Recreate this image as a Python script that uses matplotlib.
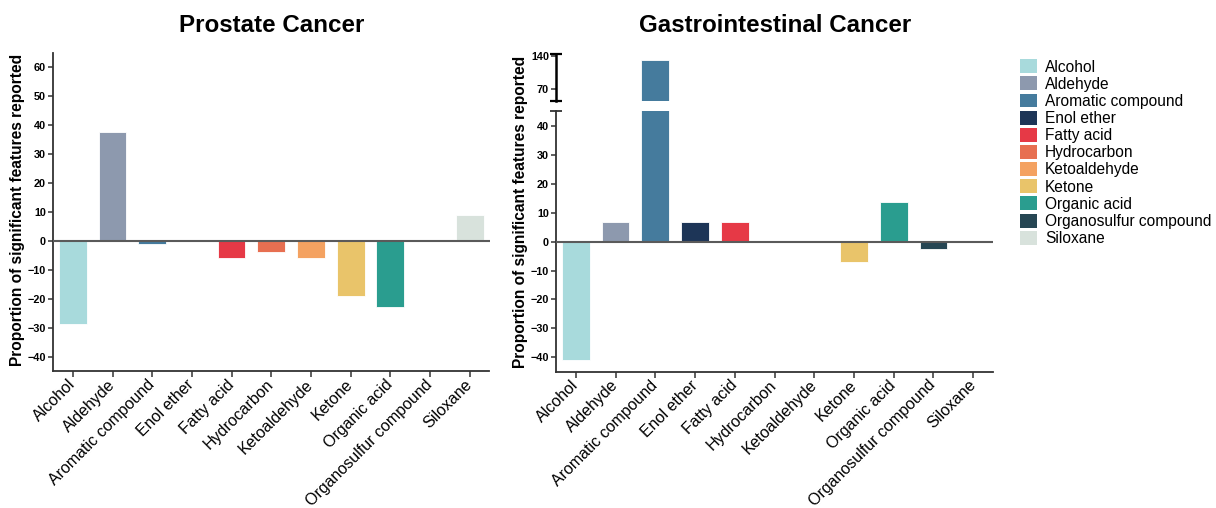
import numpy as np
import matplotlib.pyplot as plt
from matplotlib.patches import Patch

plt.rcParams['font.family'] = ['Liberation Sans', 'DejaVu Sans']

# categorias e valores
categorias = ['Alcohol', 'Aldehyde', 'Aromatic compound', 'Enol ether', 'Fatty acid',
              'Hydrocarbon', 'Ketoaldehyde', 'Ketone', 'Organic acid',
              'Organosulfur compound', 'Siloxane']
cores = ['#a8dadc', '#8d99ae', '#457b9d', '#1d3557', '#e63946', '#e76f51',
         '#f4a261', '#e9c46a', '#2a9d8f', '#264653', '#d8e2dc']
prostata = [-28.7, 37.6, -1.2, 0, -6.0, -4.0, -6.0, -19.1, -22.9, 0, 8.9]
gastro = [-40.9, 6.9, 131, 6.9, 6.9, 0, 0, -7.0, 13.8, -2.5, 0]

W, H = 1216, 508
fig = plt.figure(figsize=(W / 100, H / 100), dpi=100)

def fx(px):
    return px / W

def fy(py):
    return 1 - py / H

cor_eixo = '#333333'
x = np.arange(len(categorias))

def estilo(ax, baixo=True):
    ax.spines['top'].set_visible(False)
    ax.spines['right'].set_visible(False)
    ax.spines['left'].set_color(cor_eixo)
    ax.spines['left'].set_linewidth(1.3)
    ax.spines['bottom'].set_color(cor_eixo)
    ax.spines['bottom'].set_linewidth(1.3)
    ax.tick_params(axis='y', direction='out', length=3.5, width=1.1, color=cor_eixo,
                   labelsize=7.8, pad=1.5)
    for t in ax.get_yticklabels():
        t.set_fontweight('bold')
    ax.set_xlim(-0.5, len(categorias) - 0.5)
    if baixo:
        ax.set_xticks(x)
        ax.set_xticklabels(categorias, rotation=45, ha='right', va='center',
                           rotation_mode='anchor', fontsize=11.5)
        ax.tick_params(axis='x', direction='out', length=4, width=1.1, color=cor_eixo, pad=4)
    else:
        ax.spines['bottom'].set_visible(False)
        ax.set_xticks([])

# painel esquerdo
ax1 = fig.add_axes([fx(53), fy(371), fx(489.5 - 53), fy(53) - fy(371)])
ax1.bar(x, prostata, width=0.7, color=cores, edgecolor='white', linewidth=0.6)
ax1.axhline(0, color='#5a5a5a', lw=1.5, zorder=3)
ax1.set_ylim(-45, 65)
ax1.set_yticks(np.arange(-40, 61, 10))
estilo(ax1)

# painel direito com eixo quebrado
ax2 = fig.add_axes([fx(556), fy(371.7), fx(993 - 556), fy(111) - fy(371.7)])
ax2.bar(x, gastro, width=0.7, color=cores, edgecolor='white', linewidth=0.6)
ax2.axhline(0, color='#5a5a5a', lw=1.5, zorder=3)
ax2.set_ylim(-45, 45.2)
ax2.set_yticks(np.arange(-40, 41, 10))
estilo(ax2)

ax3 = fig.add_axes([fx(556), fy(100.7), fx(993 - 556), fy(54.3) - fy(100.7)])
ax3.bar(x, gastro, width=0.7, color=cores, edgecolor='white', linewidth=0.6)
ax3.set_ylim(44.5, 143)
ax3.set_yticks([70, 140])
estilo(ax3, baixo=False)
ax3.spines['left'].set_color('black')
ax3.spines['left'].set_linewidth(1.8)

# marcas da quebra
ax3.plot([0, 0], [0, 1], transform=ax3.transAxes, ls='none', marker='_',
         ms=8, mew=1.6, color='black', clip_on=False)
ax2.plot([0], [1], transform=ax2.transAxes, ls='none', marker='_',
         ms=8, mew=1.3, color=cor_eixo, clip_on=False)

# titulos e rotulos
fig.text(fx(272), fy(25), 'Prostate Cancer', ha='center', va='center',
         fontsize=17.4, fontweight='bold')
fig.text(fx(775), fy(25), 'Gastrointestinal Cancer', ha='center', va='center',
         fontsize=17.4, fontweight='bold')
rotulo = 'Proportion of significant features reported'
fig.text(fx(18), fy(210), rotulo, rotation=90, ha='center', va='center',
         fontsize=11.2, fontweight='bold')
fig.text(fx(520), fy(212), rotulo, rotation=90, ha='center', va='center',
         fontsize=11.2, fontweight='bold')

# legenda
alcas = [Patch(facecolor=c, edgecolor='none', label=n) for c, n in zip(cores, categorias)]
fig.legend(handles=alcas, loc='upper left', bbox_to_anchor=(fx(1014), fy(53)),
           frameon=False, fontsize=11.2, handlelength=1.1, handleheight=1.0,
           handletextpad=0.5, labelspacing=0.12, borderaxespad=0)

plt.savefig('out.png', dpi=100)
